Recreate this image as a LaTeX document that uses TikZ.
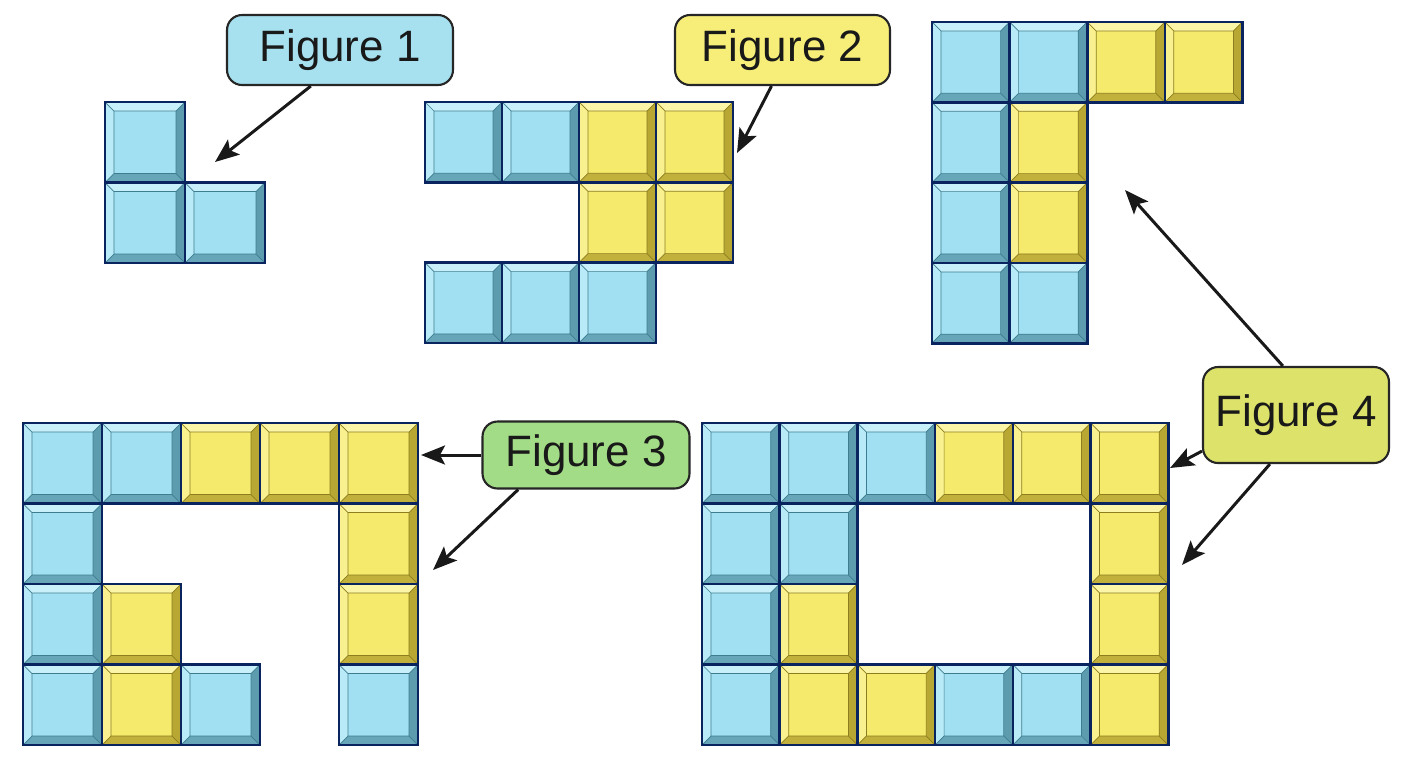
\documentclass[tikz,border=0pt]{standalone}
\usepackage{fontspec}
\setmainfont{Liberation Sans}
\usetikzlibrary{arrows.meta}
\definecolor{blueface}{RGB}{160,224,242}
\definecolor{bluehi}{RGB}{200,240,250}
\definecolor{bluelo}{RGB}{92,156,174}
\definecolor{blueedge}{RGB}{62,125,144}
\definecolor{yellowface}{RGB}{245,234,108}
\definecolor{yellowhi}{RGB}{251,245,168}
\definecolor{yellowlo}{RGB}{184,167,51}
\definecolor{yellowedge}{RGB}{140,125,30}
\definecolor{tileborder}{RGB}{10,36,96}
\definecolor{labelblue}{RGB}{167,225,240}
\definecolor{labelyellow}{RGB}{247,238,122}
\definecolor{labelgreen}{RGB}{163,220,134}
\definecolor{labellime}{RGB}{221,226,106}
% one bevelled tile: x, y, width, height, colour
\newcommand{\tile}[5]{%
  \begin{scope}[shift={(#1,#2)}]
    \fill[#5face] (0,0) rectangle (#3,#4);
    \fill[#5hi] (0,0) -- (#3,0) -- (#3-9,9) -- (9,9) -- cycle;
    \fill[#5hi!60!#5face] (0,0) -- (9,9) -- (9,#4-9) -- (0,#4) -- cycle;
    \fill[#5lo] (#3,0) -- (#3,#4) -- (#3-9,#4-9) -- (#3-9,9) -- cycle;
    \fill[#5lo!85!#5face] (0,#4) -- (#3,#4) -- (#3-9,#4-9) -- (9,#4-9) -- cycle;
    \draw[#5edge, line width=0.4pt] (9,9) rectangle (#3-9,#4-9)
      (0,0) -- (9,9) (#3,0) -- (#3-9,9) (0,#4) -- (9,#4-9) (#3,#4) -- (#3-9,#4-9);
    \draw[tileborder, line width=1.5pt] (0,0) rectangle (#3,#4);
  \end{scope}}

\begin{document}
\begin{tikzpicture}[x=0.02cm, y=-0.02cm]
  \tikzset{
    figlabel/.style={draw=black!85, line width=1.2pt, rounded corners=0.3cm,
      font=\fontsize{25}{30}\selectfont, text=black!90, inner sep=0pt},
    pointer/.style={line width=1.7pt, black!90,
      -{Stealth[length=4.8mm, width=3.8mm, inset=1mm]}}
  }
  \useasboundingbox (0,0) rectangle (1408,768);
  \fill[white] (0,0) rectangle (1408,768);

  % Figure 1
  \foreach \c/\r/\k in {0/0/blue, 0/1/blue, 1/1/blue}
    \tile{105+\c*80}{102+\r*80.5}{80}{80.5}{\k};
  % Figure 2
  \foreach \c/\r/\k in {0/0/blue, 1/0/blue, 2/0/yellow, 3/0/yellow,
                        2/1/yellow, 3/1/yellow,
                        0/2/blue, 1/2/blue, 2/2/blue}
    \tile{425+\c*77}{102+\r*80.3}{77}{80.3}{\k};
  % top right shape
  \foreach \c/\r/\k in {0/0/blue, 1/0/blue, 2/0/yellow, 3/0/yellow,
                        0/1/blue, 1/1/yellow,
                        0/2/blue, 1/2/yellow,
                        0/3/blue, 1/3/blue}
    \tile{932+\c*77.6}{22+\r*80.3}{77.6}{80.3}{\k};
  % Figure 3
  \foreach \c/\r/\k in {0/0/blue, 1/0/blue, 2/0/yellow, 3/0/yellow, 4/0/yellow,
                        0/1/blue, 4/1/yellow,
                        0/2/blue, 1/2/yellow, 4/2/yellow,
                        0/3/blue, 1/3/yellow, 2/3/blue, 4/3/blue}
    \tile{23+\c*79}{423+\r*80.5}{79}{80.5}{\k};
  % Figure 4
  \foreach \c/\r/\k in {0/0/blue, 1/0/blue, 2/0/blue, 3/0/yellow, 4/0/yellow, 5/0/yellow,
                        0/1/blue, 1/1/blue, 5/1/yellow,
                        0/2/blue, 1/2/yellow, 5/2/yellow,
                        0/3/blue, 1/3/yellow, 2/3/yellow, 3/3/blue, 4/3/blue, 5/3/yellow}
    \tile{702+\c*77.7}{423+\r*80.5}{77.7}{80.5}{\k};

  % labels
  \node[figlabel, fill=labelblue, minimum width=4.52cm, minimum height=1.4cm]
    (fig1) at (340,50) {Figure 1};
  \node[figlabel, fill=labelyellow, minimum width=4.3cm, minimum height=1.4cm]
    (fig2) at (782.5,50) {Figure 2};
  \node[figlabel, fill=labelgreen, minimum width=4.14cm, minimum height=1.34cm]
    (fig3) at (586,455) {Figure 3};
  \node[figlabel, fill=labellime, minimum width=3.72cm, minimum height=1.92cm]
    (fig4) at (1296,415) {Figure 4};

  % arrow ends
  \coordinate (t1) at (215,162);
  \coordinate (t2) at (737,153);
  \coordinate (t3a) at (421,455);
  \coordinate (t3b) at (433,570);
  \coordinate (t4a) at (1125,190);
  \coordinate (t4b) at (1170,468);
  \coordinate (t4c) at (1182,565);

  \draw[pointer] (fig1.-129) -- (t1);
  \draw[pointer] (fig2.-107) -- (t2);
  \draw[pointer] (fig3.west) -- (t3a);
  \draw[pointer] (fig3.-153) -- (t3b);
  \draw[pointer] (fig4.105) -- (t4a);
  \draw[pointer] (fig4.-159) -- (t4b);
  \draw[pointer] (fig4.-118) -- (t4c);
\end{tikzpicture}
\end{document}
